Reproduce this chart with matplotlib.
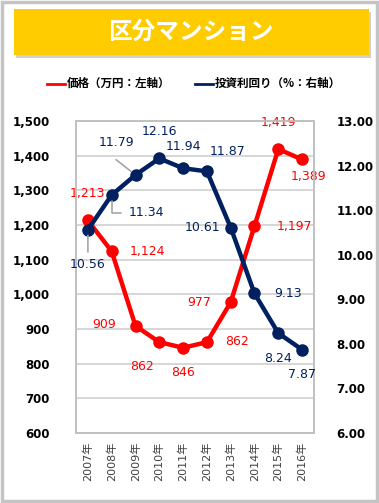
import matplotlib.pyplot as plt
from matplotlib.patches import Rectangle, FancyBboxPatch

plt.rcParams['font.family'] = ['DejaVu Sans', 'Noto Sans CJK JP']

# data
years = ['2007年', '2008年', '2009年', '2010年', '2011年',
         '2012年', '2013年', '2014年', '2015年', '2016年']
price = [1213, 1124, 909, 862, 846, 862, 977, 1197, 1419, 1389]
yield_pct = [10.56, 11.34, 11.79, 12.16, 11.94, 11.87, 10.61, 9.13, 8.24, 7.87]

# label offsets in pixels (dx, dy)
price_off = [(0, 27), (36, 0), (-31, 1), (-17, -24), (0, -25),
             (30, 1), (-32, 0), (40, 0), (0, 27), (6, -17)]
yield_off = [(0, -35), (35, -18), (-19, 32), (0, 27), (0, 22),
             (21, 20), (-28, 0), (34, 0), (0, -25), (0, -25)]

RED = '#FF0000'
NAVY = '#002060'
W, H = 379, 503

fig = plt.figure(figsize=(W / 100, H / 100), dpi=100)

# outer border
fig.patches.append(Rectangle((0.004, 0.003), 0.992, 0.994, transform=fig.transFigure,
                             fill=False, edgecolor='#c4c4c4', linewidth=2.5))
# banner with shadow
fig.patches.append(Rectangle((16 / W, 1 - 58 / H), 355 / W, 46 / H, transform=fig.transFigure,
                             facecolor='#d0d0d0', edgecolor='none'))
fig.patches.append(Rectangle((14 / W, 1 - 55 / H), 355 / W, 46 / H, transform=fig.transFigure,
                             facecolor='#FFCC00', edgecolor='none'))
fig.text(191 / W, 1 - 32 / H, '区分マンション', color='white', fontsize=17,
         fontweight='bold', ha='center', va='center', family='Noto Sans CJK JP')

# legend
fig.add_artist(plt.Line2D([47 / W, 65 / W], [1 - 84 / H] * 2, color=RED, lw=2))
fig.text(67 / W, 1 - 83 / H, '価格（万円：左軸）', fontsize=8.3, fontweight='bold',
         ha='left', va='center', family='Noto Sans CJK JP')
fig.add_artist(plt.Line2D([195 / W, 213 / W], [1 - 84 / H] * 2, color=NAVY, lw=2))
fig.text(215 / W, 1 - 83 / H, '投資利回り（%：右軸）', fontsize=8.3, fontweight='bold',
         ha='left', va='center', family='Noto Sans CJK JP')

ax = fig.add_axes([76 / W, (H - 433) / H, 238 / W, 312 / H])
ax2 = ax.twinx()

x = list(range(len(years)))
ax.plot(x, price, color=RED, lw=3.2, marker='o', ms=8, zorder=3)
ax2.plot(x, yield_pct, color=NAVY, lw=3.2, marker='o', ms=8, zorder=3)
ax.set_zorder(2)
ax2.set_zorder(3)
ax.patch.set_visible(False)

ax.set_xlim(-0.5, len(years) - 0.5)
ax.set_ylim(600, 1500)
ax2.set_ylim(6, 13)
ax.set_yticks(range(600, 1501, 100))
ax.set_yticklabels([f'{v:,}' for v in range(600, 1501, 100)])
ax2.set_yticks(range(6, 14))
ax2.set_yticklabels([f'{v:.2f}' for v in range(6, 14)])
ax.set_xticks(x)
ax.set_xticklabels(years, rotation=90, fontsize=8, color='#404040')

for a in (ax, ax2):
    a.tick_params(length=0)
    for s in a.spines.values():
        s.set_color('#c0c0c0')
        s.set_linewidth(1.2)
ax.tick_params(axis='y', pad=19, labelsize=8.5)
ax2.tick_params(axis='y', pad=16, labelsize=8.5)
ax.tick_params(axis='x', pad=6)
for lab in ax.get_yticklabels() + ax2.get_yticklabels():
    lab.set_fontweight('bold')

ax.grid(axis='y', color='#cfcfcf', lw=1.2, zorder=0)
ax.set_axisbelow(True)

# data labels
for i, v in enumerate(price):
    dx, dy = price_off[i]
    ax.annotate(f'{v:,}', (i, v), xytext=(dx * 0.72, dy * 0.72), textcoords='offset points',
                ha='center', va='center', color=RED, fontsize=9)
for i, v in enumerate(yield_pct):
    dx, dy = yield_off[i]
    ax2.annotate(f'{v:.2f}', (i, v), xytext=(dx * 0.72, dy * 0.72), textcoords='offset points',
                 ha='center', va='center', color=NAVY, fontsize=9, zorder=5)

# leader lines
ax2.annotate('', (0, yield_pct[0]), xytext=(0, -16), textcoords='offset points',
             arrowprops=dict(arrowstyle='-', color='#a6a6a6', lw=1.2, shrinkA=0, shrinkB=4))
ax2.annotate('', (1, yield_pct[1]), xytext=(7, -13), textcoords='offset points',
             arrowprops=dict(arrowstyle='-', color='#a6a6a6', lw=1.2, shrinkA=0, shrinkB=4,
                             connectionstyle='angle,angleA=0,angleB=90,rad=0'))
ax2.annotate('', (2, yield_pct[2]), xytext=(-14, 11), textcoords='offset points',
             arrowprops=dict(arrowstyle='-', color='#a6a6a6', lw=1.2, shrinkA=0, shrinkB=4))

fig.savefig('out.png', dpi=100)
